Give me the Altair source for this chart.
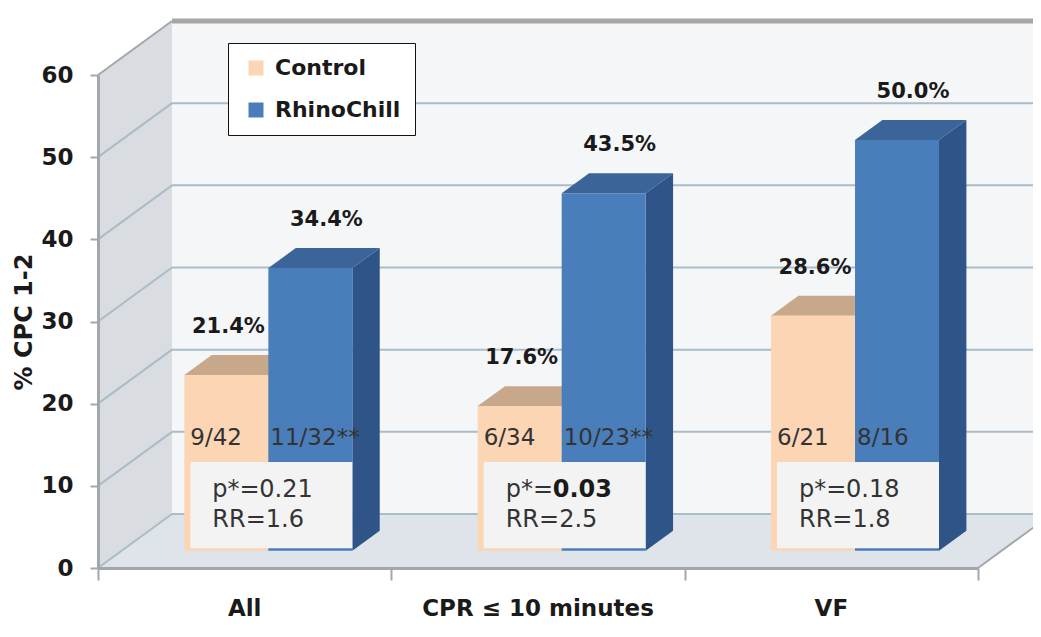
import altair as alt
import pandas as pd

# ---------------- data ----------------
categories = ["All", "CPR ≤ 10 minutes", "VF"]
series = ["Control", "RhinoChill"]
control_pct = [21.4, 17.6, 28.6]
rhino_pct = [34.4, 43.5, 50.0]
control_frac = ["9/42", "6/34", "6/21"]
rhino_frac = ["11/32**", "10/23**", "8/16"]
p_values = ["0.21", "0.03", "0.18"]
p_significant = [False, True, False]
rr_values = ["1.6", "2.5", "1.8"]
y_ticks = [0, 10, 20, 30, 40, 50, 60]

# ---------------- geometry / style ----------------
W, H = 880, 493
N = len(categories)
Y_MAX = y_ticks[-1]
PX = W / N          # px per category unit
PY = H / Y_MAX      # px per % unit
DU = 74 / PX        # depth of the 3D box, in category units
DV = 54 / PY        # depth of the 3D box, in % units
ZF, ZB = 0.32, 0.69  # front / back plane of the bars (fraction of depth)
BAR_W = 84 / PX
FONT = "DejaVu Sans"
DARK = "#1a1a1a"
GREY_TXT = "#333333"

COL_FRONT = ["#fcd5b5", "#4a7ebb"]
COL_TOP = {"Control": "#c8a88a", "RhinoChill": "#3b6599"}
COL_SIDE = {"Control": "#d9b08c", "RhinoChill": "#2f5487"}
GRID = "#a9bcc7"
EDGE = "#a3a7ab"

values = {"Control": control_pct, "RhinoChill": rhino_pct}

# ---------------- derived tables ----------------
front_rows, top_rows, side_rows = [], [], []
for i, cat in enumerate(categories):
    for j, s in enumerate(series):
        v = values[s][i]
        u0 = i + 0.5 - BAR_W + j * BAR_W
        u1 = u0 + BAR_W
        bid = f"{s}-{i}"
        front_rows.append(dict(bar=bid, series=s, cat=cat, value=v,
                               x=u0 + ZF * DU, x2=u1 + ZF * DU,
                               y=ZF * DV, y2=v + ZF * DV,
                               xc=(u0 + u1) / 2 + ZF * DU,
                               label=f"{v:.1f}%"))
        for z in (ZF, ZB):
            top_rows.append(dict(bar=bid, series=s, y=v + z * DV,
                                 x=u0 + z * DU, x2=u1 + z * DU))
            side_rows.append(dict(bar=bid, series=s, x=u1 + z * DU,
                                  y=z * DV, y2=v + z * DV))
front_df = pd.DataFrame(front_rows)
top_df = pd.DataFrame(top_rows)
side_df = pd.DataFrame(side_rows)

ann_rows = []
for i, cat in enumerate(categories):
    xl = i + 0.5 - BAR_W + ZF * DU
    xb = i + 0.5 + ZF * DU
    xr = i + 0.5 + BAR_W + ZF * DU
    base = ZF * DV
    ann_rows.append(dict(cat=cat, xl=xl, xb=xb, xr=xr, box_x=xl + 6 / PX,
                         box_y=base + 0.3, box_y2=base + 10.8,
                         y_frac=base + 13.7, y_p=base + 7.4, y_rr=base + 3.7,
                         cfrac=control_frac[i], rfrac=rhino_frac[i],
                         p=p_values[i], sig=p_significant[i],
                         rr=f"RR={rr_values[i]}", xc=i + 0.5))
ann_df = pd.DataFrame(ann_rows)

left_wall = pd.DataFrame([dict(x=0, y=0, y2=Y_MAX), dict(x=DU, y=DV, y2=Y_MAX + DV)])
back_wall = pd.DataFrame([dict(x=DU, x2=N + DU, y=DV, y2=Y_MAX + DV)])
floor = pd.DataFrame([dict(y=0, x=0, x2=N), dict(y=DV, x=DU, x2=N + DU)])
back_grid = pd.DataFrame([dict(x=DU, x2=N + DU, y=v + DV) for v in y_ticks[:-1]])
side_grid = pd.DataFrame([dict(x=0, x2=DU, y=v, y2=v + DV) for v in y_ticks[:-1]])
top_edge = pd.DataFrame([dict(x=DU, x2=N + DU, y=Y_MAX + DV)])
top_side_edge = pd.DataFrame([dict(x=0, x2=DU, y=Y_MAX, y2=Y_MAX + DV)])
floor_edge = pd.DataFrame([dict(x=N, x2=N + DU, y=0, y2=DV)])

# ---------------- scales / axes ----------------
x_scale = alt.Scale(domain=[0, N], nice=False, zero=False)
y_scale = alt.Scale(domain=[0, Y_MAX], nice=False, zero=False)
x_axis = alt.Axis(values=list(range(N + 1)), labels=False, title=None, grid=False,
                  domainColor=EDGE, domainWidth=3, tickColor=EDGE, tickWidth=2,
                  tickSize=12, zindex=1)
y_axis = alt.Axis(values=y_ticks, title="% CPC 1-2", grid=False,
                  domainColor=EDGE, domainWidth=3, tickColor=EDGE, tickWidth=2,
                  tickSize=8, labelFont=FONT, labelFontSize=23, labelFontWeight="bold",
                  labelColor=DARK, labelPadding=17, titleFont=FONT, titleFontSize=24,
                  titleFontWeight="bold", titleColor=DARK, titleAngle=270,
                  titleX=-74, titleY=H / 2, titleAlign="center", titleBaseline="middle",
                  zindex=1)


def X(f="x", stack=False):
    if stack:
        return alt.X(f"{f}:Q", scale=x_scale, axis=x_axis, stack=None)
    return alt.X(f"{f}:Q", scale=x_scale, axis=x_axis)


def Y(f="y", stack=False):
    if stack:
        return alt.Y(f"{f}:Q", scale=y_scale, axis=y_axis, stack=None)
    return alt.Y(f"{f}:Q", scale=y_scale, axis=y_axis)


layers = []
# walls and floor
layers.append(alt.Chart(left_wall).mark_area(orient="vertical", color="#d9dce1").encode(
    x=X(), y=Y(stack=True), y2="y2:Q"))
layers.append(alt.Chart(back_wall).mark_rect(color="#f5f6f8").encode(
    x=X(), x2="x2:Q", y=Y(), y2="y2:Q"))
layers.append(alt.Chart(floor).mark_area(orient="horizontal", color="#dfe4ea").encode(
    y=Y(), x=X(stack=True), x2="x2:Q"))
# gridlines and edges
layers.append(alt.Chart(back_grid).mark_rule(color=GRID, strokeWidth=2).encode(
    x=X(), x2="x2:Q", y=Y()))
layers.append(alt.Chart(side_grid).mark_rule(color=GRID, strokeWidth=2).encode(
    x=X(), x2="x2:Q", y=Y(), y2="y2:Q"))
layers.append(alt.Chart(top_edge).mark_rule(color="#a6a6a6", strokeWidth=5).encode(
    x=X(), x2="x2:Q", y=Y()))
layers.append(alt.Chart(top_side_edge).mark_rule(color=EDGE, strokeWidth=2).encode(
    x=X(), x2="x2:Q", y=Y(), y2="y2:Q"))
layers.append(alt.Chart(floor_edge).mark_rule(color=EDGE, strokeWidth=2).encode(
    x=X(), x2="x2:Q", y=Y(), y2="y2:Q"))

# bar side and top faces
for s in series:
    layers.append(alt.Chart(side_df).transform_filter(alt.datum.series == s)
                  .mark_area(orient="vertical", color=COL_SIDE[s]).encode(
                      x=X(), y=Y(stack=True), y2="y2:Q", detail="bar:N"))
    layers.append(alt.Chart(top_df).transform_filter(alt.datum.series == s)
                  .mark_area(orient="horizontal", color=COL_TOP[s]).encode(
                      y=Y(), x=X(stack=True), x2="x2:Q", detail="bar:N"))

# bar front faces (with legend)
layers.append(alt.Chart(front_df).mark_rect().encode(
    x=X(), x2="x2:Q", y=Y(), y2="y2:Q",
    color=alt.Color("series:N", scale=alt.Scale(domain=series, range=COL_FRONT),
                    legend=alt.Legend(title=None, orient="none", legendX=130, legendY=-32,
                                      direction="vertical", symbolType="square",
                                      symbolSize=225, symbolStrokeWidth=0,
                                      labelFont=FONT, labelFontSize=22,
                                      labelFontWeight="bold", labelColor=DARK,
                                      labelOffset=8, rowPadding=20, padding=14,
                                      symbolOffset=3,
                                      strokeColor="#111111", fillColor="white"))))

# annotation boxes
layers.append(alt.Chart(ann_df).mark_rect(color="#f3f3f3").encode(
    x=X("box_x"), x2="xr:Q", y=Y("box_y"), y2="box_y2:Q"))

# value labels
for s, dx in (("Control", 2), ("RhinoChill", 16)):
    layers.append(alt.Chart(front_df).transform_filter(alt.datum.series == s)
                  .mark_text(font=FONT, fontSize=21, fontWeight="bold", color=DARK,
                             baseline="middle", align="center", dx=dx, dy=-48).encode(
                      x=X("xc"), y=Y("y2"), text="label:N"))

# fractions
layers.append(alt.Chart(ann_df).mark_text(font=FONT, fontSize=23, color=GREY_TXT,
                                          align="left", baseline="middle", dx=6).encode(
    x=X("xl"), y=Y("y_frac"), text="cfrac:N"))
layers.append(alt.Chart(ann_df).mark_text(font=FONT, fontSize=23, color=GREY_TXT,
                                          align="left", baseline="middle", dx=2).encode(
    x=X("xb"), y=Y("y_frac"), text="rfrac:N"))

# p-values and RR
layers.append(alt.Chart(ann_df).mark_text(font=FONT, fontSize=24, color=GREY_TXT,
                                          align="left", baseline="middle", dx=28).encode(
    x=X("xl"), y=Y("y_p"), text=alt.value("p*=")))
layers.append(alt.Chart(ann_df).transform_filter(~alt.datum.sig)
              .mark_text(font=FONT, fontSize=24, color=GREY_TXT, align="left",
                         baseline="middle", dx=75).encode(
                  x=X("xl"), y=Y("y_p"), text="p:N"))
layers.append(alt.Chart(ann_df).transform_filter(alt.datum.sig)
              .mark_text(font=FONT, fontSize=24, fontWeight="bold", color=DARK,
                         align="left", baseline="middle", dx=75).encode(
                  x=X("xl"), y=Y("y_p"), text="p:N"))
layers.append(alt.Chart(ann_df).mark_text(font=FONT, fontSize=24, color=GREY_TXT,
                                          align="left", baseline="middle", dx=28).encode(
    x=X("xl"), y=Y("y_rr"), text="rr:N"))

# category labels
layers.append(alt.Chart(ann_df).mark_text(font=FONT, fontSize=23, fontWeight="bold",
                                          color=DARK, baseline="middle", align="center").encode(
    x=X("xc"), y=alt.value(H + 41), text="cat:N"))

chart = alt.layer(*layers).properties(
    width=W, height=H,
    autosize=alt.AutoSizeParams(type="none"),
    padding={"left": 90, "top": 67, "right": 55, "bottom": 57},
    background="white",
).configure_view(stroke=None)

chart.save("out.html", embed_options={"renderer": "svg", "actions": False})
